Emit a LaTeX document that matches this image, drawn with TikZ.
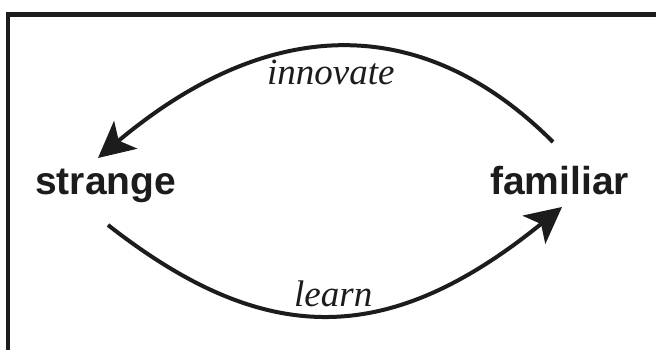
\documentclass[tikz,border=0pt]{standalone}
\usepackage{fontspec}
\setmainfont{Liberation Serif}
\setsansfont{Liberation Sans}
\usetikzlibrary{arrows.meta}
\definecolor{ink}{HTML}{1C1C1C}
\tikzset{
  term/.style={font=\sffamily\bfseries\fontsize{39}{39}\selectfont, text=ink, inner sep=0pt, anchor=base west},
  verb/.style={font=\itshape\fontsize{37}{37}\selectfont, text=ink, inner sep=0pt, anchor=base west},
  arc/.style={draw=ink, line width=4pt, -{Stealth[length=36pt, width=36pt, inset=9pt]}},
  frame/.style={draw=ink, line width=4.5pt}
}
\begin{document}
\begin{tikzpicture}[x=1pt, y=1pt]
\useasboundingbox (0,0) rectangle (656,350);
\fill[white] (0,0) rectangle (656,350);
% frame (top and left sides)
\coordinate (fa) at (8,0);
\coordinate (fb) at (8,335.5);
\coordinate (fc) at (656,335.5);
\draw[frame] (fa) -- (fb) -- (fc);
% terms
\node[term] (strange) at (35,155) {strange};
\node[term] (familiar) at (490,155) {familiar};
\node[verb] (innovate) at (267,265) {innovate};
\node[verb] (learn) at (294,43) {learn};
% arc ends
\coordinate (famtop) at (553,208);
\coordinate (strtop) at (98,192);
\coordinate (strbot) at (108,125);
\coordinate (fambot) at (562,143);
\draw[arc] (famtop) .. controls (424,337) and (271,337) .. (strtop);
\draw[arc] (strbot) .. controls (265,2) and (388,2) .. (fambot);
\end{tikzpicture}
\end{document}
